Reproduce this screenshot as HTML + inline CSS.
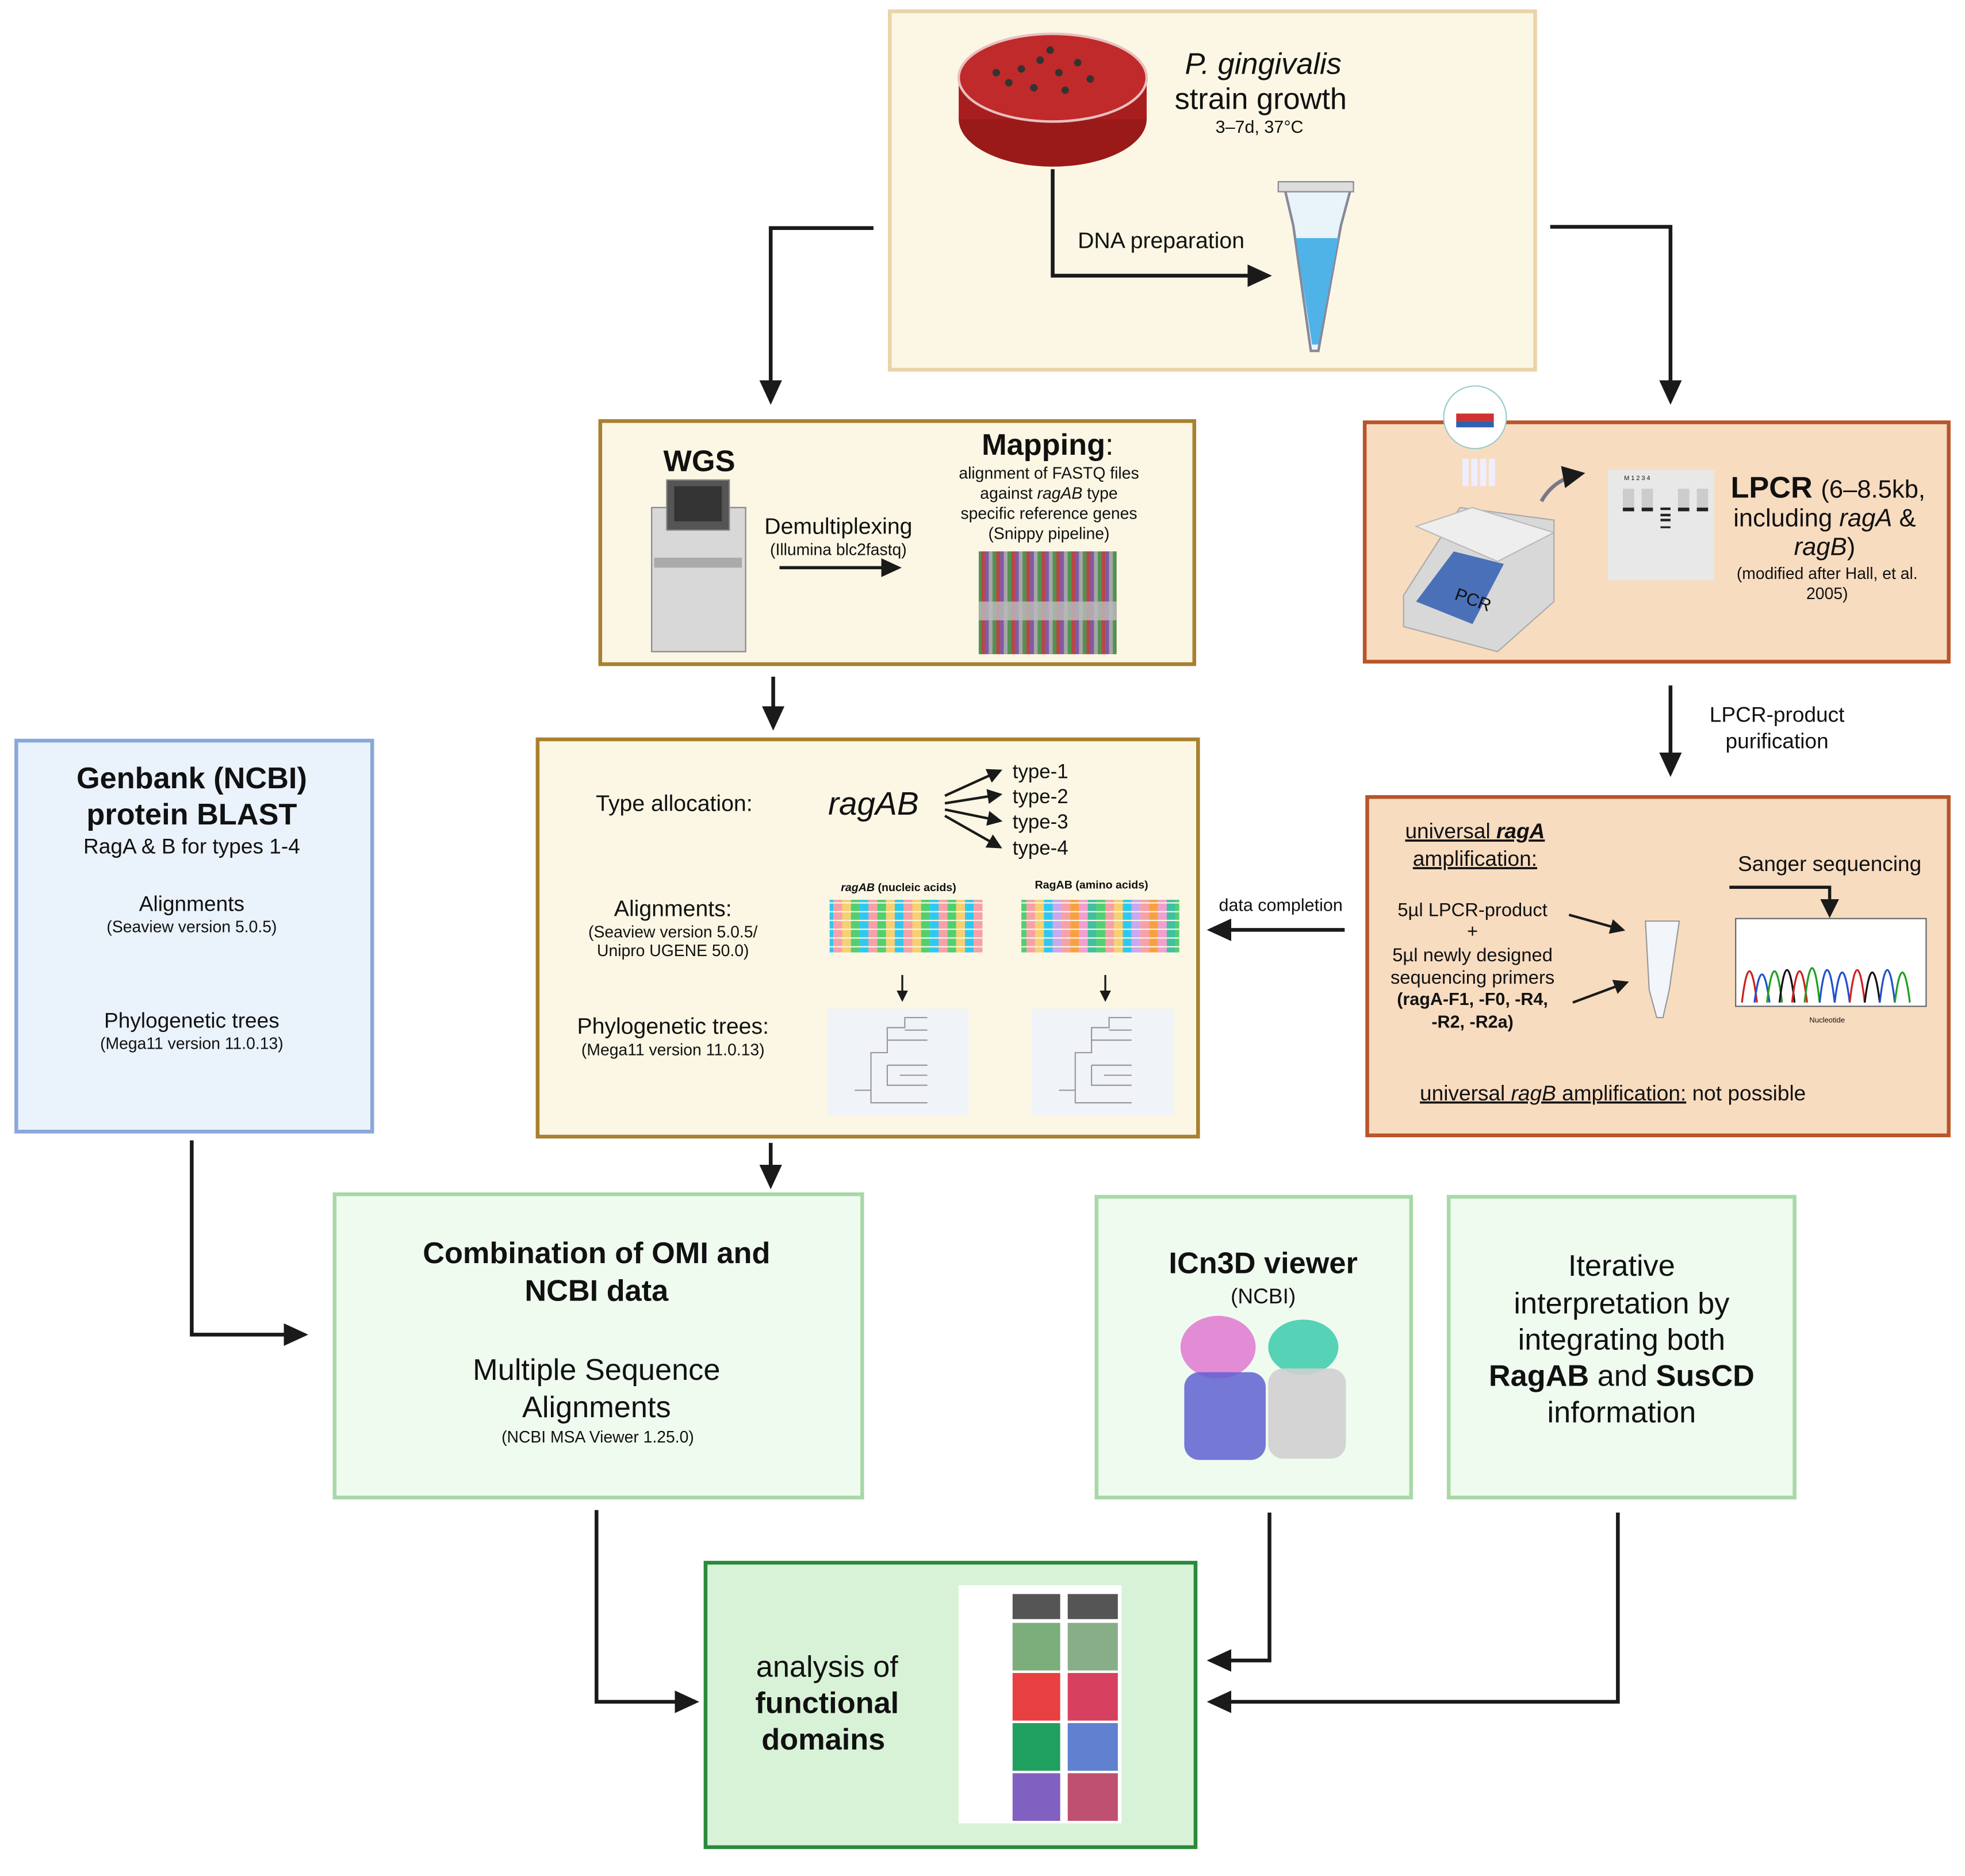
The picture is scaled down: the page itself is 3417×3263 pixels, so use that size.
<!DOCTYPE html>
<html><head><meta charset="utf-8"><style>
html,body{margin:0;padding:0;background:#fff}
svg{display:block}
text{font-family:"Liberation Sans",Arial,sans-serif;fill:#111}
</style></head><body>
<svg width="3417" height="3263" viewBox="0 0 1568 1497" preserveAspectRatio="none" xmlns="http://www.w3.org/2000/svg">
<defs>
<marker id="ah" markerWidth="6.5" markerHeight="6" refX="5.5" refY="3" orient="auto" markerUnits="strokeWidth">
<path d="M0,0 L6.5,3 L0,6 Z" fill="#1a1a1a"/></marker>
<marker id="as" markerWidth="6" markerHeight="6" refX="5" refY="3" orient="auto" markerUnits="strokeWidth">
<path d="M0,0 L6,3 L0,6 Z" fill="#1a1a1a"/></marker>
<pattern id="nuc" width="56" height="7" patternUnits="userSpaceOnUse">
<rect x="0" y="0" width="7" height="6" fill="#f8d070"/><rect x="7" width="7" height="6" fill="#50d070"/><rect x="14" width="7" height="6" fill="#30c8f0"/><rect x="21" width="7" height="6" fill="#f8a0a8"/><rect x="28" width="7" height="6" fill="#50d070"/><rect x="35" width="7" height="6" fill="#f8d070"/><rect x="42" width="7" height="6" fill="#30c8f0"/><rect x="49" width="7" height="6" fill="#f8a0a8"/>
</pattern>
<pattern id="amn" width="63" height="7" patternUnits="userSpaceOnUse">
<rect x="0" width="7" height="6" fill="#f8a0a8"/><rect x="7" width="7" height="6" fill="#f8d070"/><rect x="14" width="7" height="6" fill="#30c8f0"/><rect x="21" width="7" height="6" fill="#c8a8f0"/><rect x="28" width="7" height="6" fill="#f8a0a8"/><rect x="35" width="7" height="6" fill="#f8a040"/><rect x="42" width="7" height="6" fill="#f0a0d0"/><rect x="49" width="7" height="6" fill="#40c0a0"/><rect x="56" width="7" height="6" fill="#50d070"/>
</pattern>
<pattern id="msa" width="12" height="6" patternUnits="userSpaceOnUse">
<rect width="3" height="6" fill="#30a030"/><rect x="3" width="3" height="6" fill="#e02020"/><rect x="6" width="3" height="6" fill="#8040c0"/><rect x="9" width="3" height="6" fill="#c0c0c0"/>
</pattern>
</defs>

<rect x="710" y="9" width="515" height="286" fill="#fbf7e4" stroke="#ead3a8" stroke-width="3"/>
<ellipse cx="840" cy="95" rx="75" ry="38" fill="#9a1a1a"/>
<rect x="765" y="62" width="150" height="33" fill="#a81e1e"/>
<ellipse cx="840" cy="62" rx="75" ry="35" fill="#c02a2a" stroke="#e8c0c0" stroke-width="2"/>
<g fill="#333"><circle cx="815" cy="55" r="3"/><circle cx="830" cy="48" r="3"/><circle cx="845" cy="58" r="3"/><circle cx="860" cy="50" r="3"/><circle cx="805" cy="66" r="3"/><circle cx="825" cy="70" r="3"/><circle cx="850" cy="72" r="3"/><circle cx="870" cy="63" r="3"/><circle cx="795" cy="58" r="3"/><circle cx="838" cy="40" r="3"/></g>
<text x="1008" y="59" font-size="24" font-style="italic" text-anchor="middle">P. gingivalis</text>
<text x="1006" y="87" font-size="24" text-anchor="middle">strain growth</text>
<text x="1005" y="106" font-size="14" text-anchor="middle">3–7d, 37°C</text>
<path d="M840,135 L840,220 L1012,220" fill="none" stroke="#1a1a1a" stroke-width="3" marker-end="url(#ah)"/>
<text x="860" y="198" font-size="18">DNA preparation</text>
<path d="M1025,150 L1078,150 L1070,180 L1052,280 L1046,280 L1032,180 Z" fill="#e8f4fa" stroke="#889" stroke-width="2"/>
<path d="M1034,190 L1068,190 L1052,275 L1047,275 Z" fill="#4fb3e8"/>
<rect x="1020" y="145" width="60" height="8" fill="#ddd" stroke="#889"/>

<path d="M697,182 L615,182 L615,320" fill="none" stroke="#1a1a1a" stroke-width="3" marker-end="url(#ah)"/>
<path d="M1237,181 L1333,181 L1333,320" fill="none" stroke="#1a1a1a" stroke-width="3" marker-end="url(#ah)"/>

<rect x="479" y="336" width="474" height="194" fill="#fbf7e4" stroke="#a88030" stroke-width="3"/>
<text x="558" y="376" font-size="24" font-weight="bold" text-anchor="middle">WGS</text>
<rect x="520" y="405" width="75" height="115" fill="#d8d8d8" stroke="#888"/>
<rect x="532" y="383" width="50" height="40" fill="#555" stroke="#888"/>
<rect x="538" y="388" width="38" height="28" fill="#333"/>
<rect x="522" y="445" width="70" height="8" fill="#aaa"/>
<text x="669" y="426" font-size="18" text-anchor="middle">Demultiplexing</text>
<text x="669" y="443" font-size="13" text-anchor="middle">(Illumina blc2fastq)</text>
<path d="M622,453 L717,453" stroke="#1a1a1a" stroke-width="2.5" marker-end="url(#ah)"/>
<text x="836" y="363" font-size="24" font-weight="bold" text-anchor="middle">Mapping<tspan font-weight="normal">:</tspan></text>
<text x="837" y="382" font-size="13" text-anchor="middle">alignment of FASTQ files</text>
<text x="837" y="398" font-size="13" text-anchor="middle">against <tspan font-style="italic">ragAB</tspan> type</text>
<text x="837" y="414" font-size="13" text-anchor="middle">specific reference genes</text>
<text x="837" y="430" font-size="13" text-anchor="middle">(Snippy pipeline)</text>
<rect x="781" y="440" width="110" height="82" fill="#808080"/>
<rect x="781" y="440" width="110" height="82" fill="url(#msa)" opacity="0.6"/>
<rect x="781" y="480" width="110" height="15" fill="#bbb" opacity="0.8"/>

<rect x="1089" y="337" width="466" height="191" fill="#f8dcc0" stroke="#b8552a" stroke-width="3"/>
<path d="M1120,475 L1165,405 L1240,415 L1240,480 L1195,520 L1120,500 Z" fill="#d8d8d8" stroke="#aaa"/>
<path d="M1130,420 L1175,405 L1240,425 L1195,448 Z" fill="#eee" stroke="#bbb"/>
<path d="M1130,480 L1160,440 L1200,450 L1175,498 Z" fill="#4a70b8"/>
<text x="1160" y="478" font-size="14" fill="#223a70" transform="rotate(20 1160 478)">PCR</text>
<circle cx="1177" cy="333" r="25" fill="#fff" stroke="#9cc" stroke-width="1"/>
<rect x="1162" y="330" width="30" height="6" fill="#d03030"/><rect x="1162" y="336" width="30" height="5" fill="#3060b0"/>
<g fill="#eef"><rect x="1167" y="366" width="5" height="22"/><rect x="1174" y="366" width="5" height="22"/><rect x="1181" y="366" width="5" height="22"/><rect x="1188" y="366" width="5" height="22"/></g>
<path d="M1230,400 Q1240,382 1262,378" fill="none" stroke="#778" stroke-width="3" marker-end="url(#as)"/>
<rect x="1283" y="375" width="85" height="88" fill="#e8e8e8"/>
<text x="1296" y="383" font-size="5">M  1  2      3  4</text>
<g fill="#222"><rect x="1295" y="405" width="9" height="3"/><rect x="1310" y="405" width="9" height="3"/><rect x="1339" y="405" width="9" height="3"/><rect x="1354" y="405" width="9" height="3"/><rect x="1325" y="405" width="8" height="2"/><rect x="1325" y="410" width="8" height="2"/><rect x="1325" y="414" width="8" height="2"/><rect x="1325" y="420" width="8" height="1.5"/></g>
<g fill="#ccc"><rect x="1295" y="390" width="9" height="15"/><rect x="1310" y="390" width="9" height="15"/><rect x="1339" y="390" width="9" height="15"/><rect x="1354" y="390" width="9" height="15"/></g>
<text x="1381" y="397" font-size="24" font-weight="bold">LPCR <tspan font-weight="normal" font-size="20">(6–8.5kb,</tspan></text>
<text x="1456" y="420" font-size="20" text-anchor="middle">including <tspan font-style="italic">ragA</tspan> &amp;</text>
<text x="1456" y="443" font-size="20" text-anchor="middle"><tspan font-style="italic">ragB</tspan>)</text>
<text x="1458" y="462" font-size="13" text-anchor="middle">(modified after Hall, et al.</text>
<text x="1458" y="478" font-size="13" text-anchor="middle">2005)</text>

<path d="M617,540 L617,580" stroke="#1a1a1a" stroke-width="3" marker-end="url(#ah)"/>
<path d="M1333,547 L1333,617" stroke="#1a1a1a" stroke-width="3" marker-end="url(#ah)"/>
<text x="1418" y="576" font-size="17" text-anchor="middle">LPCR-product</text>
<text x="1418" y="597" font-size="17" text-anchor="middle">purification</text>

<rect x="429" y="590" width="527" height="317" fill="#fbf7e4" stroke="#a88030" stroke-width="3"/>
<text x="538" y="647" font-size="18" text-anchor="middle">Type allocation:</text>
<text x="697" y="650" font-size="26" font-style="italic" text-anchor="middle">ragAB</text>
<g stroke="#1a1a1a" stroke-width="2" marker-end="url(#as)">
<path d="M754,635 L798,615"/><path d="M754,641 L798,634"/><path d="M754,646 L798,655"/><path d="M754,651 L798,676"/></g>
<text x="808" y="621" font-size="16">type-1</text>
<text x="808" y="641" font-size="16">type-2</text>
<text x="808" y="661" font-size="16">type-3</text>
<text x="808" y="682" font-size="16">type-4</text>
<text x="537" y="731" font-size="18" text-anchor="middle">Alignments:</text>
<text x="537" y="748" font-size="13" text-anchor="middle">(Seaview version 5.0.5/</text>
<text x="537" y="763" font-size="13" text-anchor="middle">Unipro UGENE 50.0)</text>
<text x="717" y="711" font-size="9" font-weight="bold" text-anchor="middle"><tspan font-style="italic">ragAB</tspan> (nucleic acids)</text>
<text x="871" y="709" font-size="9" font-weight="bold" text-anchor="middle">RagAB (amino acids)</text>
<rect x="662" y="718" width="122" height="42" fill="url(#nuc)"/>
<rect x="815" y="718" width="126" height="42" fill="url(#amn)"/>
<path d="M720,778 L720,798" stroke="#1a1a1a" stroke-width="1.5" marker-end="url(#as)"/>
<path d="M882,778 L882,798" stroke="#1a1a1a" stroke-width="1.5" marker-end="url(#as)"/>
<text x="537" y="825" font-size="18" text-anchor="middle">Phylogenetic trees:</text>
<text x="537" y="842" font-size="13" text-anchor="middle">(Mega11 version 11.0.13)</text>
<rect x="660" y="805" width="113" height="85" fill="#f0f4f8"/>
<rect x="823" y="805" width="114" height="85" fill="#f0f4f8"/>
<g fill="none" stroke="#999" stroke-width="1">
<path d="M682,870 H695 V840 H708 V820 H722 V812 H740 M722,822 H740 M708,830 H740 M695,870 V880 H740 M708,850 H740 M708,850 V866 H740 M718,858 H740"/>
<path d="M845,870 H858 V840 H871 V820 H885 V812 H903 M885,822 H903 M871,830 H903 M858,870 V880 H903 M871,850 H903 M871,850 V866 H903 M881,858 H903"/></g>

<rect x="1091" y="636" width="464" height="270" fill="#f8dcc0" stroke="#b8552a" stroke-width="3"/>
<text x="1177" y="669" font-size="17" text-anchor="middle" text-decoration="underline">universal <tspan font-style="italic" font-weight="bold">ragA</tspan></text>
<text x="1177" y="691" font-size="17" text-anchor="middle" text-decoration="underline">amplification:</text>
<text x="1460" y="695" font-size="17" text-anchor="middle">Sanger sequencing</text>
<path d="M1380,708 L1460,708 L1460,730" fill="none" stroke="#1a1a1a" stroke-width="2.5" marker-end="url(#as)"/>
<text x="1175" y="731" font-size="15" text-anchor="middle">5µl LPCR-product</text>
<text x="1175" y="748" font-size="15" text-anchor="middle">+</text>
<text x="1175" y="767" font-size="15" text-anchor="middle">5µl newly designed</text>
<text x="1175" y="785" font-size="15" text-anchor="middle">sequencing primers</text>
<text x="1175" y="802" font-size="14" font-weight="bold" text-anchor="middle">(ragA-F1, -F0, -R4,</text>
<text x="1175" y="820" font-size="14" font-weight="bold" text-anchor="middle">-R2, -R2a)</text>
<path d="M1252,730 L1295,742" stroke="#1a1a1a" stroke-width="2" marker-end="url(#as)"/>
<path d="M1255,800 L1298,784" stroke="#1a1a1a" stroke-width="2" marker-end="url(#as)"/>
<path d="M1313,735 L1340,735 L1332,790 L1327,812 L1322,812 L1316,790 Z" fill="#f2f6fa" stroke="#999"/>
<rect x="1385" y="733" width="152" height="70" fill="#fff" stroke="#666"/>
<g fill="none" stroke-width="1.5">
<path d="M1390,800 Q1396,750 1402,800" stroke="#d02020"/><path d="M1400,800 Q1406,755 1412,800" stroke="#2050d0"/><path d="M1410,800 Q1416,750 1422,800" stroke="#20a020"/><path d="M1420,800 Q1426,748 1432,800" stroke="#111"/><path d="M1430,800 Q1436,750 1442,800" stroke="#d02020"/><path d="M1440,800 Q1446,745 1452,800" stroke="#20a020"/><path d="M1452,800 Q1458,748 1464,800" stroke="#2050d0"/><path d="M1464,800 Q1470,752 1476,800" stroke="#2050d0"/><path d="M1476,800 Q1482,748 1488,800" stroke="#d02020"/><path d="M1488,800 Q1494,752 1500,800" stroke="#111"/><path d="M1500,800 Q1506,748 1512,800" stroke="#2050d0"/><path d="M1512,800 Q1518,752 1524,800" stroke="#20a020"/></g>
<text x="1458" y="816" font-size="6" text-anchor="middle">Nucleotide</text>
<text x="1287" y="878" font-size="17" text-anchor="middle"><tspan text-decoration="underline">universal <tspan font-style="italic">ragB</tspan> amplification:</tspan> not possible</text>

<path d="M1073,742 L966,742" stroke="#1a1a1a" stroke-width="3" marker-end="url(#ah)"/>
<text x="1022" y="727" font-size="14" text-anchor="middle">data completion</text>

<rect x="13" y="591" width="284" height="312" fill="#eaf2fc" stroke="#8aa8d8" stroke-width="3"/>
<text x="153" y="629" font-size="24" font-weight="bold" text-anchor="middle">Genbank (NCBI)</text>
<text x="153" y="658" font-size="24" font-weight="bold" text-anchor="middle">protein BLAST</text>
<text x="153" y="681" font-size="17" text-anchor="middle">RagA &amp; B for types 1-4</text>
<text x="153" y="727" font-size="17" text-anchor="middle">Alignments</text>
<text x="153" y="744" font-size="13" text-anchor="middle">(Seaview version 5.0.5)</text>
<text x="153" y="820" font-size="17" text-anchor="middle">Phylogenetic trees</text>
<text x="153" y="837" font-size="13" text-anchor="middle">(Mega11 version 11.0.13)</text>

<path d="M615,912 L615,946" stroke="#1a1a1a" stroke-width="3" marker-end="url(#ah)"/>
<path d="M153,910 L153,1065 L243,1065" fill="none" stroke="#1a1a1a" stroke-width="3" marker-end="url(#ah)"/>

<rect x="267" y="953" width="421" height="242" fill="#f0fbf0" stroke="#a8d8a8" stroke-width="3"/>
<text x="476" y="1008" font-size="24" font-weight="bold" text-anchor="middle">Combination of OMI and</text>
<text x="476" y="1038" font-size="24" font-weight="bold" text-anchor="middle">NCBI data</text>
<text x="476" y="1101" font-size="24" text-anchor="middle">Multiple Sequence</text>
<text x="476" y="1131" font-size="24" text-anchor="middle">Alignments</text>
<text x="477" y="1151" font-size="13" text-anchor="middle">(NCBI MSA Viewer 1.25.0)</text>

<rect x="875" y="955" width="251" height="240" fill="#f0fbf0" stroke="#a8d8a8" stroke-width="3"/>
<text x="1008" y="1016" font-size="24" font-weight="bold" text-anchor="middle">ICn3D viewer</text>
<text x="1008" y="1040" font-size="17" text-anchor="middle">(NCBI)</text>
<ellipse cx="972" cy="1075" rx="30" ry="25" fill="#e070d0" opacity="0.8"/>
<ellipse cx="1040" cy="1075" rx="28" ry="22" fill="#30c8a8" opacity="0.8"/>
<rect x="945" y="1095" width="65" height="70" rx="12" fill="#6060d0" opacity="0.85"/>
<rect x="1012" y="1092" width="62" height="72" rx="12" fill="#cfcfcf" opacity="0.9"/>

<rect x="1156" y="955" width="276" height="240" fill="#f0fbf0" stroke="#a8d8a8" stroke-width="3"/>
<text x="1294" y="1018" font-size="24" text-anchor="middle">Iterative</text>
<text x="1294" y="1048" font-size="24" text-anchor="middle">interpretation by</text>
<text x="1294" y="1077" font-size="24" text-anchor="middle">integrating both</text>
<text x="1294" y="1106" font-size="24" text-anchor="middle"><tspan font-weight="bold">RagAB</tspan> and <tspan font-weight="bold">SusCD</tspan></text>
<text x="1294" y="1135" font-size="24" text-anchor="middle">information</text>

<path d="M476,1205 L476,1358 L555,1358" fill="none" stroke="#1a1a1a" stroke-width="3" marker-end="url(#ah)"/>
<path d="M1013,1207 L1013,1325 L966,1325" fill="none" stroke="#1a1a1a" stroke-width="3" marker-end="url(#ah)"/>
<path d="M1291,1207 L1291,1358 L966,1358" fill="none" stroke="#1a1a1a" stroke-width="3" marker-end="url(#ah)"/>

<rect x="563" y="1247" width="391" height="227" fill="#d8f2d8" stroke="#2a8a3a" stroke-width="3"/>
<text x="660" y="1338" font-size="24" text-anchor="middle">analysis of</text>
<text x="660" y="1367" font-size="24" font-weight="bold" text-anchor="middle">functional</text>
<text x="657" y="1396" font-size="24" font-weight="bold" text-anchor="middle">domains</text>
<rect x="765" y="1265" width="130" height="190" fill="#fff"/>
<rect x="808" y="1272" width="38" height="20" fill="#555"/><rect x="852" y="1272" width="40" height="20" fill="#555"/>
<rect x="808" y="1295" width="38" height="38" fill="#5a9a5a" opacity="0.8"/><rect x="852" y="1295" width="40" height="38" fill="#6a9a6a" opacity="0.8"/>
<rect x="808" y="1335" width="38" height="38" fill="#e84040"/><rect x="852" y="1335" width="40" height="38" fill="#d84060"/>
<rect x="808" y="1375" width="38" height="38" fill="#20a060"/><rect x="852" y="1375" width="40" height="38" fill="#6080d0"/>
<rect x="808" y="1415" width="38" height="38" fill="#8060c0"/><rect x="852" y="1415" width="40" height="38" fill="#c05070"/>
</svg>
</body></html>
